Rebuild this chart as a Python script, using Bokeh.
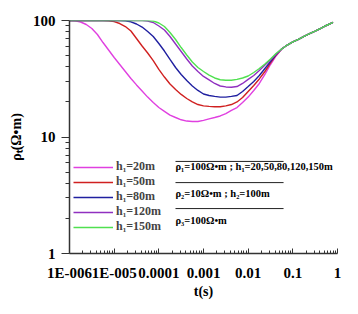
from bokeh.plotting import figure
from bokeh.models import FixedTicker, Label, Legend
from bokeh.embed import file_html
from bokeh.resources import INLINE

# ---- data ----
t = [1e-6, 1.334e-6, 1.778e-6, 2.371e-6, 3.162e-6, 4.217e-6, 5.623e-6, 7.499e-6,
     1e-5, 1.334e-5, 1.778e-5, 2.371e-5, 3.162e-5, 4.217e-5, 5.623e-5, 7.499e-5,
     1e-4, 1.334e-4, 1.778e-4, 2.371e-4, 3.162e-4, 4.217e-4, 5.623e-4, 7.499e-4,
     1e-3, 1.334e-3, 1.778e-3, 2.371e-3, 3.162e-3, 4.217e-3, 5.623e-3, 7.499e-3,
     1e-2, 1.334e-2, 1.778e-2, 2.371e-2, 3.162e-2, 4.217e-2, 5.623e-2, 7.499e-2,
     1e-1, 1.334e-1, 1.778e-1, 2.371e-1, 3.162e-1, 4.217e-1, 5.623e-1, 0.794]

rho_h20 = [100, 99.4, 97.1, 92.4, 85.4, 75.8, 64.7, 55.8,
           48.1, 41.9, 36.5, 31.8, 28.0, 24.8, 22.0, 19.8,
           17.9, 16.6, 15.4, 14.7, 14.05, 13.7, 13.6, 13.6,
           13.9, 14.3, 14.7, 15.15, 15.9, 16.9, 17.9, 19.8,
           22.0, 25.1, 28.8, 34.4, 41.9, 49.6, 56.9, 61.6,
           65.4, 69.0, 72.9, 77.0, 81.2, 85.7, 90.6, 96.5]
rho_h50 = [100, 100, 100, 100, 100, 100, 100, 99.4,
           97.7, 94.2, 88.8, 81.2, 70.1, 60.4, 52.6, 45.3,
           38.0, 32.7, 28.5, 25.6, 23.2, 21.4, 20.0, 19.0,
           18.5, 18.3, 18.2, 18.2, 18.5, 19.0, 20.0, 21.8,
           24.6, 27.7, 31.5, 36.5, 43.2, 50.6, 56.9, 61.6,
           65.4, 69.0, 72.9, 77.0, 81.2, 85.7, 90.6, 96.5]
rho_h80 = [100, 100, 100, 100, 100, 100, 100, 100,
           100, 100, 99.4, 97.5, 93.3, 87.9, 80.4, 72.9,
           63.5, 54.7, 46.3, 39.5, 34.4, 30.5, 27.4, 25.1,
           23.4, 22.7, 22.3, 22.0, 22.0, 22.3, 22.7, 24.6,
           27.1, 30.0, 33.7, 38.7, 44.4, 51.1, 56.9, 61.6,
           65.4, 69.0, 72.9, 77.0, 81.2, 85.7, 90.6, 96.5]
rho_h120 = [100, 100, 100, 100, 100, 100, 100, 100,
            100, 100, 100, 100, 100, 100, 99.0, 96.1,
            89.7, 82.9, 72.9, 62.8, 54.2, 46.7, 40.7, 36.5,
            33.1, 30.9, 28.8, 27.4, 26.9, 26.7, 27.1, 28.8,
            31.2, 33.7, 37.2, 41.5, 45.8, 51.6, 56.9, 61.6,
            65.4, 69.0, 72.9, 77.0, 81.2, 85.7, 90.6, 96.5]
rho_h150 = [100, 100, 100, 100, 100, 100, 100, 100,
            100, 100, 100, 100, 100, 100, 100, 99.0,
            95.2, 88.8, 78.9, 68.7, 58.6, 50.6, 44.0, 39.5,
            36.5, 34.0, 32.1, 31.0, 30.7, 30.7, 31.2, 32.1,
            33.4, 35.8, 38.7, 42.3, 46.7, 52.1, 56.9, 61.6,
            65.4, 69.0, 72.9, 77.0, 81.2, 85.7, 90.6, 96.5]

series_labels = ["h\u2081=20m", "h\u2081=50m", "h\u2081=80m", "h\u2081=120m", "h\u2081=150m"]
series_colors = ["#e040e0", "#d02020", "#2020a0", "#9030c0", "#50e050"]

x_ticks = [1e-6, 1e-5, 1e-4, 1e-3, 1e-2, 1e-1, 1.0]
x_tick_labels = ["1E-006", "1E-005", "0.0001", "0.001", "0.01", "0.1", "1"]
y_ticks = [1, 10, 100]
y_tick_labels = ["1", "10", "100"]

note_lines = ["\u03c1\u2081=100\u03a9\u2022m ; h\u2081=20,50,80,120,150m",
              "\u03c1\u2082=10\u03a9\u2022m ; h\u2082=100m",
              "\u03c1\u2083=100\u03a9\u2022m"]

FONT = "Liberation Serif"

p = figure(width=358, height=314, x_axis_type="log", y_axis_type="log",
           x_range=(1e-6, 1.0), y_range=(1, 100),
           output_backend="svg", toolbar_location=None,
           min_border_left=69, min_border_right=21, min_border_top=20, min_border_bottom=61)
p.outline_line_color = None
p.xgrid.visible = False
p.ygrid.visible = False
p.background_fill_color = "white"

series = [rho_h20, rho_h50, rho_h80, rho_h120, rho_h150]
renderers = []
for vals, lab, col in zip(series, series_labels, series_colors):
    r = p.line(t, vals, line_color=col, line_width=1.4)
    renderers.append((lab, [r]))

legend = Legend(items=renderers, location=(4, 19))
legend.border_line_alpha = 0
legend.background_fill_alpha = 0
legend.label_text_font = FONT
legend.label_text_font_style = "bold"
legend.label_text_font_size = "12px"
legend.glyph_width = 40
legend.glyph_height = 14
legend.label_height = 14
legend.label_standoff = 3
legend.spacing = 0
legend.padding = 0
legend.margin = 0
p.add_layout(legend, "center")

# x axis
xminor = [m * 10.0 ** e for e in range(-6, 0) for m in range(2, 10)]
p.xaxis.ticker = FixedTicker(ticks=x_ticks, minor_ticks=xminor)
p.xaxis.major_label_overrides = dict(zip(x_ticks, x_tick_labels))
p.xaxis.major_tick_in = 5
p.xaxis.major_tick_out = 0
p.xaxis.minor_tick_in = 3
p.xaxis.minor_tick_out = 0
p.xaxis.major_label_standoff = 11
p.xaxis.axis_label = "t(s)"
p.xaxis.axis_label_standoff = 0

# y axis
yminor = [m * 10.0 ** e for e in range(0, 2) for m in range(2, 10)]
p.yaxis.ticker = FixedTicker(ticks=y_ticks, minor_ticks=yminor)
p.yaxis.major_label_overrides = dict(zip(y_ticks, y_tick_labels))
p.yaxis.major_tick_in = 0
p.yaxis.major_tick_out = 8
p.yaxis.minor_tick_in = 0
p.yaxis.minor_tick_out = 4
p.yaxis.major_label_standoff = 6
p.yaxis.axis_label = "\u03c1\u209c(\u03a9\u2022m)"
p.yaxis.axis_label_standoff = 6

for ax in (p.xaxis, p.yaxis):
    ax.axis_line_color = "#333333"
    ax.axis_line_width = 1.5
    ax.major_tick_line_color = "#333333"
    ax.minor_tick_line_color = "#333333"
    ax.major_label_text_font = FONT
    ax.major_label_text_font_style = "bold"
    ax.major_label_text_font_size = "15px"
    ax.major_label_text_color = "black"
    ax.axis_label_text_font = FONT
    ax.axis_label_text_font_style = "bold"
    ax.axis_label_text_font_size = "14px"
    ax.axis_label_text_color = "black"

# parameter notes (positions in the log axes' data space)
note_x0, note_x1 = 2.36e-4, 0.062
rule_y = [6.17, 4.06, 2.43]
text_y = [5.58, 3.27, 1.92]
p.segment(x0=[note_x0] * 3, x1=[note_x1] * 3, y0=rule_y, y1=rule_y,
          line_color="#222222", line_width=1)
for ty, txt in zip(text_y, note_lines):
    p.add_layout(Label(x=note_x0, y=ty, text=txt, text_font=FONT,
                       text_font_style="bold", text_font_size="10.5px",
                       text_color="black", text_baseline="middle", text_align="left"))

open("out.html", "w").write(file_html(p, INLINE))
